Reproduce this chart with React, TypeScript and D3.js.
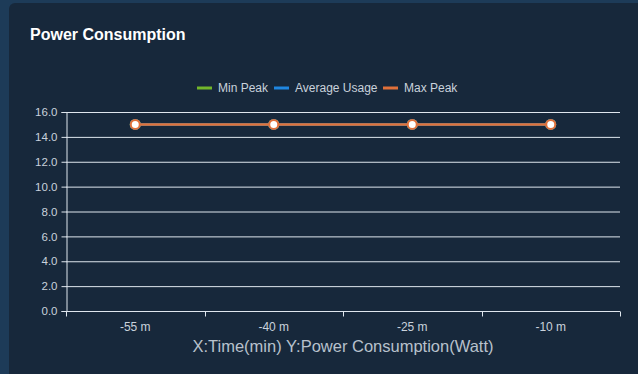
import { useEffect, useRef } from "react";
import * as d3 from "d3";

const timeLabels = ["-55 m", "-40 m", "-25 m", "-10 m"];
const minPeak = [15, 15, 15, 15];
const averageUsage = [15, 15, 15, 15];
const maxPeak = [15, 15, 15, 15];
const yTicks = [0, 2, 4, 6, 8, 10, 12, 14, 16];

const seriesList = [
  { name: "Min Peak", color: "#72b62b", values: minPeak },
  { name: "Average Usage", color: "#1f86e0", values: averageUsage },
  { name: "Max Peak", color: "#e0703a", values: maxPeak },
];

const font = "'Liberation Sans', Arial, sans-serif";

export default function App() {
  const svgRef = useRef<SVGSVGElement | null>(null);

  useEffect(() => {
    const svgElement = svgRef.current;
    if (!svgElement) return;
    const width = 638;
    const height = 374;
    const margin = { top: 112, right: 18, bottom: 63, left: 66 };

    const svg = d3.select(svgElement);
    svg.selectAll("*").remove();

    // page background + card
    svg.append("rect").attr("width", width).attr("height", height).attr("fill", "#1d3b58");
    svg
      .append("rect")
      .attr("x", 9)
      .attr("y", 3)
      .attr("width", width + 20)
      .attr("height", height + 20)
      .attr("rx", 6)
      .attr("fill", "#17283b");

    svg
      .append("text")
      .attr("x", 30)
      .attr("y", 40)
      .attr("fill", "#ffffff")
      .attr("font-family", font)
      .attr("font-weight", "bold")
      .attr("font-size", 16)
      .text("Power Consumption");

    const x = d3
      .scaleBand()
      .domain(timeLabels)
      .range([margin.left, width - margin.right]);
    const y = d3
      .scaleLinear()
      .domain([0, 16])
      .range([height - margin.bottom, margin.top]);

    // grid
    svg
      .append("g")
      .selectAll("line")
      .data(yTicks.slice(1))
      .join("line")
      .attr("x1", margin.left)
      .attr("x2", width - margin.right)
      .attr("y1", (d) => y(d) + 0.5)
      .attr("y2", (d) => y(d) + 0.5)
      .attr("stroke", "#dfe6ee")
      .attr("stroke-width", 1);

    const yAxis = svg
      .append("g")
      .attr("transform", `translate(${margin.left + 0.5},0)`)
      .call(
        d3
          .axisLeft(y)
          .tickValues(yTicks)
          .tickFormat(d3.format(".1f"))
          .tickSizeOuter(0)
          .tickSize(5)
          .tickPadding(4)
      );
    yAxis.select(".domain").attr("stroke", "#dfe6ee");
    yAxis.selectAll("line").attr("stroke", "#dfe6ee");
    yAxis
      .selectAll("text")
      .attr("fill", "#c9d2dc")
      .attr("font-family", font)
      .attr("font-size", 11.5);

    const xEdges = timeLabels.map((t) => x(t) ?? 0).concat([width - margin.right]);
    const xAxis = svg
      .append("g")
      .attr("transform", `translate(0,${height - margin.bottom + 0.5})`);
    xAxis
      .append("line")
      .attr("x1", margin.left)
      .attr("x2", width - margin.right)
      .attr("stroke", "#dfe6ee");
    xAxis
      .selectAll("line.tick")
      .data(xEdges)
      .join("line")
      .attr("class", "tick")
      .attr("x1", (d) => Math.round(d) + 0.5)
      .attr("x2", (d) => Math.round(d) + 0.5)
      .attr("y1", 0)
      .attr("y2", 5)
      .attr("stroke", "#dfe6ee");
    xAxis
      .selectAll("text")
      .data(timeLabels)
      .join("text")
      .attr("x", (d) => (x(d) ?? 0) + x.bandwidth() / 2)
      .attr("y", 19)
      .attr("text-anchor", "middle")
      .attr("fill", "#c9d2dc")
      .attr("font-family", font)
      .attr("font-size", 12)
      .text((d) => d);

    svg
      .append("text")
      .attr("x", (margin.left + width - margin.right) / 2)
      .attr("y", 352)
      .attr("text-anchor", "middle")
      .attr("fill", "#b7c1cc")
      .attr("font-family", font)
      .attr("font-size", 16.5)
      .text("X:Time(min) Y:Power Consumption(Watt)");

    const line = d3
      .line<number>()
      .x((_, i) => (x(timeLabels[i]) ?? 0) + x.bandwidth() / 2)
      .y((d) => y(d));

    seriesList.forEach((s) => {
      svg
        .append("path")
        .datum(s.values)
        .attr("d", line)
        .attr("fill", "none")
        .attr("stroke", s.color)
        .attr("stroke-width", 2.5);
      svg
        .append("g")
        .selectAll("circle")
        .data(s.values)
        .join("circle")
        .attr("cx", (_, i) => (x(timeLabels[i]) ?? 0) + x.bandwidth() / 2)
        .attr("cy", (d) => y(d))
        .attr("r", 4.5)
        .attr("fill", "#ffffff")
        .attr("stroke", s.color)
        .attr("stroke-width", 2);
    });

    // legend
    const legend = svg.append("g").attr("font-family", font).attr("font-size", 12);
    const legendX = [197, 274, 383];
    seriesList.forEach((s, i) => {
      legend
        .append("rect")
        .attr("x", legendX[i])
        .attr("y", 86.5)
        .attr("width", 15)
        .attr("height", 3)
        .attr("fill", s.color);
      legend
        .append("text")
        .attr("x", legendX[i] + 21)
        .attr("y", 92)
        .attr("fill", "#c9d2dc")
        .text(s.name);
    });
  }, []);

  return (
    <div style={{ position: "absolute", left: 0, top: 0 }}>
      <svg ref={svgRef} width={638} height={374} style={{ display: "block" }} />
    </div>
  );
}
